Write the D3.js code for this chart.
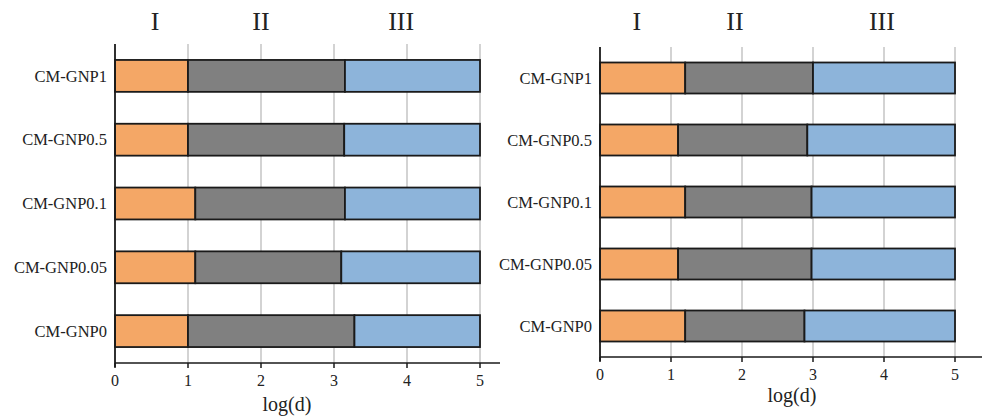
<!DOCTYPE html>
<html>
<head>
<meta charset="utf-8">
<script src="https://cdn.jsdelivr.net/npm/d3@7"></script>
<style>
  body { margin: 0; background: #fff; }
  text { font-family: "Liberation Serif", "Times New Roman", serif; fill: #222; }
</style>
</head>
<body>
<script>
// categories, top to bottom
var categories = ["CM-GNP1", "CM-GNP0.5", "CM-GNP0.1", "CM-GNP0.05", "CM-GNP0"];

// stage boundaries in log(d), left panel
var leftEnd1 = [1.0, 1.0, 1.1, 1.1, 1.0];
var leftEnd2 = [3.15, 3.14, 3.15, 3.10, 3.28];
var leftEnd3 = [5, 5, 5, 5, 5];

// stage boundaries in log(d), right panel
var rightEnd1 = [1.2, 1.1, 1.2, 1.1, 1.2];
var rightEnd2 = [3.0, 2.92, 2.98, 2.98, 2.88];
var rightEnd3 = [5, 5, 5, 5, 5];

var stageLabels = ["I", "II", "III"];
var leftStagePos = [0.55, 2.0, 3.92];
var rightStagePos = [0.52, 1.9, 3.97];

var xTicks = [0, 1, 2, 3, 4, 5];
var xLabel = "log(d)";

var colors = ["#f4a766", "#808080", "#8db4da"];

var svg = d3.select("body").append("svg")
    .attr("width", 982)
    .attr("height", 416);

function drawPanel(p) {
  var x = d3.scaleLinear().domain([0, 5]).range([p.x0, p.x5]);
  var y = d3.scaleBand().domain(categories).range([p.top, p.bottom])
      .paddingInner(0.5).paddingOuter(0.25);

  var g = svg.append("g");

  // grid lines
  g.selectAll(".grid")
      .data(xTicks.slice(1))
      .enter().append("line")
      .attr("x1", function(d) { return x(d); })
      .attr("x2", function(d) { return x(d); })
      .attr("y1", p.top)
      .attr("y2", p.bottom)
      .attr("stroke", "#c8c8c8")
      .attr("stroke-width", 1.6);

  // stacked segments
  var rows = categories.map(function(c, i) {
    var ends = [p.e1[i], p.e2[i], p.e3[i]];
    return ends.map(function(e, k) {
      return {cat: c, start: k === 0 ? 0 : ends[k - 1], end: e, k: k};
    });
  });
  var segs = [].concat.apply([], rows);

  g.selectAll(".seg")
      .data(segs)
      .enter().append("rect")
      .attr("x", function(d) { return x(d.start); })
      .attr("width", function(d) { return x(d.end) - x(d.start); })
      .attr("y", function(d) { return y(d.cat); })
      .attr("height", y.bandwidth())
      .attr("fill", function(d) { return colors[d.k]; })
      .attr("stroke", "#1a1a1a")
      .attr("stroke-width", 1.8);

  // x axis
  g.append("line")
      .attr("x1", p.x0).attr("x2", p.axisEnd)
      .attr("y1", p.bottom).attr("y2", p.bottom)
      .attr("stroke", "#1a1a1a").attr("stroke-width", 1.5);
  g.selectAll(".tick")
      .data(xTicks)
      .enter().append("line")
      .attr("x1", function(d) { return x(d); })
      .attr("x2", function(d) { return x(d); })
      .attr("y1", p.bottom).attr("y2", p.bottom + 5)
      .attr("stroke", "#1a1a1a").attr("stroke-width", 1.5);
  g.selectAll(".ticklabel")
      .data(xTicks)
      .enter().append("text")
      .attr("x", function(d) { return x(d); })
      .attr("y", p.bottom + 23)
      .attr("text-anchor", "middle")
      .style("font-size", "16px")
      .text(function(d) { return d; });

  // y axis
  g.append("line")
      .attr("x1", p.x0).attr("x2", p.x0)
      .attr("y1", p.top).attr("y2", p.bottom + 4)
      .attr("stroke", "#1a1a1a").attr("stroke-width", 1.8);

  g.selectAll(".catlabel")
      .data(categories)
      .enter().append("text")
      .attr("x", p.x0 - 8)
      .attr("y", function(d) { return y(d) + y.bandwidth() / 2; })
      .attr("dy", "0.35em")
      .attr("text-anchor", "end")
      .style("font-size", "16.5px")
      .text(function(d) { return d; });

  // stage labels
  g.selectAll(".stage")
      .data(stageLabels)
      .enter().append("text")
      .attr("x", function(d, i) { return x(p.stagePos[i]); })
      .attr("y", 30)
      .attr("text-anchor", "middle")
      .style("font-size", "26px")
      .text(function(d) { return d; });

  g.append("text")
      .attr("x", p.labelX)
      .attr("y", p.labelY)
      .attr("text-anchor", "middle")
      .style("font-size", "20px")
      .text(xLabel);
}

drawPanel({x0: 115, x5: 480, top: 44, bottom: 363, axisEnd: 500,
           e1: leftEnd1, e2: leftEnd2, e3: leftEnd3, stagePos: leftStagePos,
           labelX: 287, labelY: 411});
drawPanel({x0: 600, x5: 955, top: 47, bottom: 357, axisEnd: 982,
           e1: rightEnd1, e2: rightEnd2, e3: rightEnd3, stagePos: rightStagePos,
           labelX: 792, labelY: 402});
</script>
</body>
</html>
